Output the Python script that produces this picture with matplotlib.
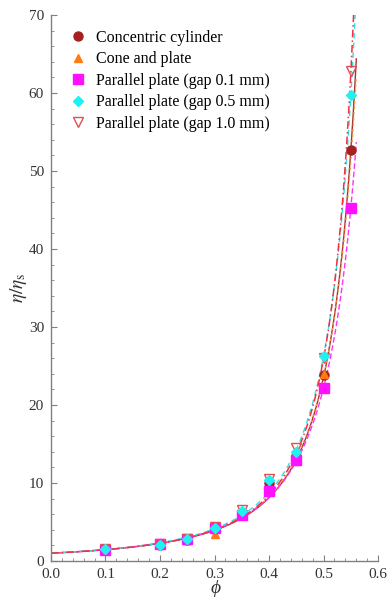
import numpy as np
import matplotlib
matplotlib.use("Agg")
import matplotlib.pyplot as plt
from matplotlib.ticker import MultipleLocator, FormatStrFormatter

plt.rcParams['font.family'] = ['Liberation Serif', 'DejaVu Serif']
plt.rcParams['mathtext.fontset'] = 'stix'

# Volume fractions measured
phi = [0.1, 0.2, 0.25, 0.3, 0.35, 0.4, 0.45, 0.5, 0.55]

# Relative viscosity for each geometry
concentric = [1.4, 2.1, 2.7, 4.1, 6.2, 10.0, 13.5, 23.8, 52.7]
cone_plate = [1.4, 2.2, 2.7, 3.5, 6.0, 9.2, 12.8, 24.0]
pp_gap01 = [1.4, 2.2, 2.8, 4.2, 5.9, 9.0, 13.0, 22.2, 45.2]
pp_gap05 = [1.5, 2.1, 2.8, 4.2, 6.4, 10.4, 14.0, 26.3, 59.7]
pp_gap10 = [1.5, 2.2, 2.8, 4.3, 6.5, 10.5, 14.5, 26.0, 62.8]

labels = ["Concentric cylinder", "Cone and plate",
          "Parallel plate (gap 0.1 mm)", "Parallel plate (gap 0.5 mm)",
          "Parallel plate (gap 1.0 mm)"]

# Fitted model eta/eta_s = (1 - phi/phi_m)^(-n) for each geometry
phi_m = [0.670, 0.680, 0.700, 0.674, 0.655]
n_exp = [2.305, 2.38, 2.475, 2.415, 2.26]

fig = plt.figure(figsize=(3.89, 5.99), dpi=100)
ax = fig.add_axes([0.131, 0.0634, 0.841, 0.9116])

phi_fit = np.linspace(0.0, 0.56, 400)
line_styles = [
    dict(color='#A83232', ls='-', lw=1.0),
    dict(color='#FF9A30', ls=(0, (1.5, 2.5)), lw=1.0),
    dict(color='#FF30FF', ls=(0, (4, 2)), lw=1.0),
    dict(color='#30E0E0', ls=(0, (4, 3)), lw=1.0),
    dict(color='#F03040', ls=(0, (5, 2, 1, 2)), lw=1.1),
]
for pm, ne, st in zip(phi_m, n_exp, line_styles):
    ax.plot(phi_fit, (1 - phi_fit / pm) ** (-ne), **st, zorder=2)

ms = 6.5
ax.plot(phi, concentric, 'o', color='#A52020', ms=ms, label=labels[0], zorder=3)
ax.plot(phi[:len(cone_plate)], cone_plate, '^', color='#FF7A10', ms=ms - 0.5,
        label=labels[1], zorder=3)
ax.plot(phi, pp_gap01, 's', color='#FF10FF', ms=ms, label=labels[2], zorder=4)
ax.plot(phi, pp_gap10, 'v', mfc='none', mec='#E05050', mew=1.0, ms=ms + 0.5,
        label=labels[4], zorder=5)
ax.plot(phi, pp_gap05, 'D', color='#20F0F0', ms=ms - 1.5, label=labels[3], zorder=6)

ax.set_xlim(0, 0.6)
ax.set_ylim(0, 70)
ax.xaxis.set_major_locator(MultipleLocator(0.1))
ax.xaxis.set_minor_locator(MultipleLocator(0.02))
ax.yaxis.set_major_locator(MultipleLocator(10))
ax.yaxis.set_minor_locator(MultipleLocator(2))
ax.xaxis.set_major_formatter(FormatStrFormatter('%.1f'))

for s in ['top', 'right']:
    ax.spines[s].set_visible(False)
for s in ['left', 'bottom']:
    ax.spines[s].set_color('#808080')
    ax.spines[s].set_linewidth(1.0)
ax.tick_params(which='both', direction='in', colors='#808080', labelcolor='#333333',
               labelsize=11)
ax.tick_params(which='major', length=4)
ax.tick_params(which='minor', length=2)
ax.tick_params(axis='x', pad=5)
ax.tick_params(axis='y', pad=5)

# x label placed directly in figure coordinates below the tick labels
fig.text(0.553, 0.031, 'ϕ', fontsize=14, fontstyle='italic', ha='center',
         va='top', color='#333333')
ax.set_ylabel(r'$\eta/\eta_{\rm s}$', fontsize=14, labelpad=0, color='#333333')

handles, labs = ax.get_legend_handles_labels()
order = [labs.index(l) for l in labels]
ax.legend([handles[i] for i in order], [labs[i] for i in order],
          loc='upper left', bbox_to_anchor=(0.04, 0.985), frameon=False,
          fontsize=11.5, handletextpad=0.6, labelspacing=0.35,
          handlelength=1.0, borderaxespad=0)

fig.savefig('out.png', dpi=100)
